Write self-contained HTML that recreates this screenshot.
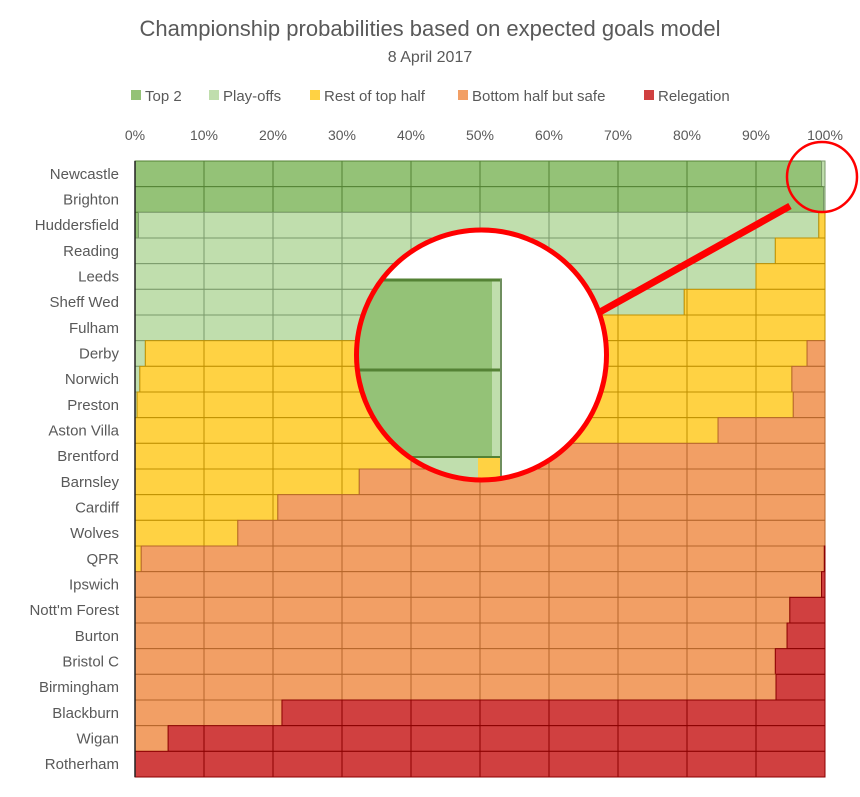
<!DOCTYPE html>
<html><head><meta charset="utf-8"><style>
body{margin:0;background:#fff;font-family:"Liberation Sans",sans-serif;}
svg text{font-family:"Liberation Sans",sans-serif;fill:#595959;}
</style></head><body>
<svg id="chart" width="860" height="792" viewBox="0 0 860 792">
<defs><clipPath id="lensClip"><circle cx="481.5" cy="355" r="125"/></clipPath></defs>
<text x="430" y="36" text-anchor="middle" font-size="22">Championship probabilities based on expected goals model</text>
<text x="430" y="62" text-anchor="middle" font-size="16">8 April 2017</text>
<g id="legend"></g>
<g id="xticks"></g>
<g id="ylabels"></g>
<g id="bars"></g>
<g>
<line x1="600" y1="312" x2="790" y2="206" stroke="#ff0000" stroke-width="7"/>
<circle cx="822" cy="177" r="35" fill="none" stroke="#ff0000" stroke-width="2.5"/>
<g clip-path="url(#lensClip)">
<rect x="350" y="225" width="265" height="262" fill="#fff"/>
<rect x="350" y="279" width="152" height="178" fill="#94c277"/>
<rect x="492" y="279" width="9" height="178" fill="#c0dead"/>
<line x1="350" y1="280" x2="502" y2="280" stroke="#548235" stroke-width="3"/>
<line x1="350" y1="370" x2="502" y2="370" stroke="#548235" stroke-width="3"/>
<line x1="350" y1="457" x2="502" y2="457" stroke="#548235" stroke-width="2"/>
<line x1="501" y1="279" x2="501" y2="485" stroke="#6f8f5f" stroke-width="2"/>
<rect x="350" y="458" width="128" height="30" fill="#c0dead"/>
<rect x="478" y="458" width="22" height="30" fill="#ffd243"/>
</g>
<circle cx="481.5" cy="355" r="125" fill="none" stroke="#ff0000" stroke-width="5"/>
</g>
</svg>
<script>
const teams=["Newcastle","Brighton","Huddersfield","Reading","Leeds","Sheff Wed","Fulham","Derby","Norwich","Preston","Aston Villa","Brentford","Barnsley","Cardiff","Wolves","QPR","Ipswich","Nott'm Forest","Burton","Bristol C","Birmingham","Blackburn","Wigan","Rotherham"];
const seriesNames=["Top 2","Play-offs","Rest of top half","Bottom half but safe","Relegation"];
const top2=[99.5,99.8,0.5,0,0,0,0,0,0,0,0,0,0,0,0,0,0,0,0,0,0,0,0,0];
const playoffs=[0.5,0.2,98.6,92.8,90,79.6,64,1.5,0.7,0.3,0,0,0,0,0,0,0,0,0,0,0,0,0,0];
const restTop=[0,0,0.9,7.2,10,20.4,36,95.9,94.5,95.1,84.5,40,32.5,20.7,14.9,0.9,0,0,0,0,0,0,0,0];
const bottomSafe=[0,0,0,0,0,0,0,2.6,4.8,4.6,15.5,60,67.5,79.3,85.1,99.0,99.5,94.9,94.5,92.8,92.9,21.3,4.8,0];
const relegation=[0,0,0,0,0,0,0,0,0,0,0,0,0,0,0,0.1,0.5,5.1,5.5,7.2,7.1,78.7,95.2,100];
const xTicks=[0,10,20,30,40,50,60,70,80,90,100];
const fills=["#94c277","#c0dead","#ffd243","#f29f65","#d04040"];
const strokes=["#548235","#7a9a6a","#bf9000","#b5652a","#8b0000"];
const X0=135,X1=825,Y0=161,Y1=777;
const xs=v=>X0+(X1-X0)*v/100;
const rowH=(Y1-Y0)/teams.length;
const ys=i=>Y0+i*rowH;
const NS="http://www.w3.org/2000/svg";
function mk(t,a){const e=document.createElementNS(NS,t);for(const k in a)e.setAttribute(k,a[k]);return e;}
const bars=document.getElementById('bars'),xt=document.getElementById('xticks'),yl=document.getElementById('ylabels'),lg=document.getElementById('legend');
const series=[top2,playoffs,restTop,bottomSafe,relegation];
teams.forEach((t,i)=>{
  let cum=0;
  series.forEach((s,k)=>{
    const v=s[i];
    if(v>0){
      const r=mk('rect',{x:xs(cum),y:ys(i),width:xs(cum+v)-xs(cum),height:rowH,fill:fills[k]});
      
      
      bars.appendChild(r);
      // gridlines inside segment
      xTicks.forEach(tv=>{
        if(tv>cum+0.01&&tv<cum+v-0.01){
          const gl=mk('line',{x1:xs(tv),x2:xs(tv),y1:ys(i),y2:ys(i)+rowH,stroke:strokes[k],'stroke-width':1});
          
          
          bars.appendChild(gl);
        }
      });
      const b=mk('rect',{x:xs(cum),y:ys(i),width:xs(cum+v)-xs(cum),height:rowH,fill:'none',stroke:strokes[k],'stroke-width':1});
      
      
      bars.appendChild(b);
    }
    cum+=v;
  });
  const lab=mk('text',{x:119,y:ys(i)+rowH/2+5,'text-anchor':'end','font-size':15});
  lab.textContent=t;
  
  
  yl.appendChild(lab);
});
const axis=mk('line',{x1:X0,x2:X0,y1:Y0,y2:Y1,stroke:'#222','stroke-width':1.5});


bars.appendChild(axis);
xTicks.forEach(tv=>{
  const e=mk('text',{x:xs(tv),y:140,'text-anchor':'middle','font-size':14});
  e.textContent=tv+'%';
  
  
  xt.appendChild(e);
});
const legX=[131,209,310,458,644];
seriesNames.forEach((n,k)=>{
  const sq=mk('rect',{x:legX[k],y:90,width:10,height:10,fill:fills[k]});
  
  
  lg.appendChild(sq);
  const tx=mk('text',{x:legX[k]+14,y:101,'font-size':15});
  tx.textContent=n;
  
  
  lg.appendChild(tx);
});
</script>
</body></html>
